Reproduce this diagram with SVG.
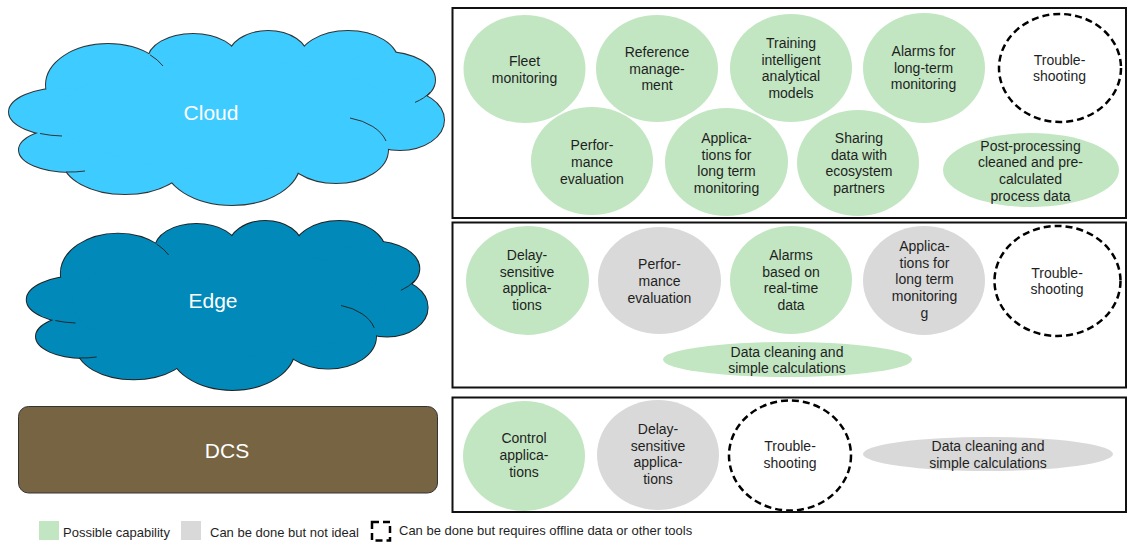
<svg xmlns="http://www.w3.org/2000/svg" xmlns:xlink="http://www.w3.org/1999/xlink" width="1128" height="542" viewBox="0 0 1128 542">
  <style>
    .t { font-family: "Liberation Sans", Arial, sans-serif; font-size: 14px; fill: #1f1f1f; text-anchor: middle; }
    .big { font-family: "Liberation Sans", Arial, sans-serif; font-size: 21px; fill: #ffffff; text-anchor: middle; }
    .leg { font-family: "Liberation Sans", Arial, sans-serif; font-size: 13px; fill: #1f1f1f; }
    .cap { fill: #c2e6c2; }
    .meh { fill: #d9d9d9; }
    .off { fill: #ffffff; stroke: #000000; stroke-width: 2.5; stroke-dasharray: 7 4; }
    .panel { fill: none; stroke: #111111; stroke-width: 2; }
  </style>
  <defs>
    <!-- cloud silhouette built from overlapping lobes -->
    <g id="cloudLobes">
      <ellipse cx="108" cy="85" rx="62" ry="41"/>
      <ellipse cx="193" cy="60" rx="45" ry="26"/>
      <ellipse cx="268" cy="58" rx="40" ry="27"/>
      <ellipse cx="348" cy="62" rx="50" ry="31"/>
      <ellipse cx="385" cy="80" rx="50" ry="28"/>
      <ellipse cx="400" cy="120" rx="44" ry="30"/>
      <ellipse cx="336" cy="150" rx="52" ry="33"/>
      <ellipse cx="232" cy="162" rx="68" ry="43"/>
      <ellipse cx="125" cy="160" rx="62" ry="34"/>
      <ellipse cx="70" cy="150" rx="51" ry="22"/>
      <ellipse cx="65" cy="112" rx="56" ry="24"/>
      <ellipse cx="228" cy="115" rx="170" ry="55"/>
    </g>
    <!-- short inner creases between lobes -->
    <g id="cloudCreases">
      <path d="M350,118 A52,33 0 0 1 386,141"/>
      <path d="M415,102.4 A50,28 0 0 0 430,92.2"/>
      <path d="M40,133.5 A56,24 0 0 0 62,136"/>
      <path d="M66,172 A51,22 0 0 0 85,171"/>
      <path d="M150,54.8 A62,41 0 0 1 163,66"/>
    </g>
  </defs>

  <rect width="1128" height="542" fill="#ffffff"/>

  <!-- tiers -->
  <g id="cloud">
    <use xlink:href="#cloudLobes" fill="#3ecbff" stroke="#333333" stroke-width="2"/>
    <use xlink:href="#cloudLobes" fill="#3ecbff"/>
    <use xlink:href="#cloudCreases" fill="none" stroke="#333333" stroke-width="1"/>
    <text class="big" x="211" y="120">Cloud</text>
  </g>

  <g id="edge">
    <g transform="matrix(0.9218 0 0 0.9714 18.4 190.86)">
      <use xlink:href="#cloudLobes" fill="#0089b9" stroke="#222222" stroke-width="2"/>
      <use xlink:href="#cloudLobes" fill="#0089b9"/>
      <use xlink:href="#cloudCreases" fill="none" stroke="#222222" stroke-width="1"/>
    </g>
    <text class="big" x="213" y="308">Edge</text>
  </g>

  <g id="dcs">
    <rect x="18.5" y="406.5" width="419" height="86.5" rx="10" fill="#766443" stroke="#333333" stroke-width="1"/>
    <text class="big" x="227" y="458">DCS</text>
  </g>

  <!-- cloud capabilities -->
  <g id="cloud-panel">
    <g id="c-fleet">
      <ellipse class="cap" cx="524.5" cy="69" rx="61" ry="54"/>
      <text class="t"><tspan x="524.5" y="66">Fleet</tspan><tspan x="524.5" y="82.7">monitoring</tspan></text>
    </g>
    <g id="c-reference">
      <ellipse class="cap" cx="657" cy="68.5" rx="61" ry="53.5"/>
      <text class="t"><tspan x="657" y="57">Reference</tspan><tspan x="657" y="73.7">manage-</tspan><tspan x="657" y="90.4">ment</tspan></text>
    </g>
    <g id="c-training">
      <ellipse class="cap" cx="791" cy="68" rx="61" ry="54"/>
      <text class="t"><tspan x="791" y="48">Training</tspan><tspan x="791" y="64.7">intelligent</tspan><tspan x="791" y="81.4">analytical</tspan><tspan x="791" y="98.1">models</tspan></text>
    </g>
    <g id="c-alarms">
      <ellipse class="cap" cx="924" cy="68" rx="61" ry="55"/>
      <text class="t"><tspan x="923.5" y="56">Alarms for</tspan><tspan x="923.5" y="72.7">long-term</tspan><tspan x="923.5" y="89.4">monitoring</tspan></text>
    </g>
    <g id="c-trouble">
      <ellipse class="off" cx="1060" cy="68" rx="61" ry="54"/>
      <text class="t"><tspan x="1059.5" y="64.7">Trouble-</tspan><tspan x="1059.5" y="81.4">shooting</tspan></text>
    </g>
    <g id="c-performance">
      <ellipse class="cap" cx="592" cy="161" rx="61" ry="54"/>
      <text class="t"><tspan x="592" y="150.3">Perfor-</tspan><tspan x="592" y="167">mance</tspan><tspan x="592" y="183.7">evaluation</tspan></text>
    </g>
    <g id="c-longterm">
      <ellipse class="cap" cx="726.5" cy="162" rx="61.5" ry="54"/>
      <text class="t"><tspan x="726.5" y="143">Applica-</tspan><tspan x="726.5" y="159.7">tions for</tspan><tspan x="726.5" y="176.4">long term</tspan><tspan x="726.5" y="193.1">monitoring</tspan></text>
    </g>
    <g id="c-sharing">
      <ellipse class="cap" cx="858" cy="163" rx="61" ry="53"/>
      <text class="t"><tspan x="859" y="143">Sharing</tspan><tspan x="859" y="159.7">data with</tspan><tspan x="859" y="176.4">ecosystem</tspan><tspan x="859" y="193.1">partners</tspan></text>
    </g>
    <g id="c-postproc">
      <ellipse class="cap" cx="1031" cy="170" rx="88" ry="37"/>
      <text class="t"><tspan x="1030.5" y="150.7">Post-processing</tspan><tspan x="1030.5" y="167.4">cleaned and pre-</tspan><tspan x="1030.5" y="184.1">calculated</tspan><tspan x="1030.5" y="200.8">process data</tspan></text>
    </g>
    <rect class="panel" x="452.5" y="8" width="673.5" height="210"/>
  </g>

  <!-- edge capabilities -->
  <g id="edge-panel">
    <g id="e-delay">
      <ellipse class="cap" cx="527.5" cy="280.5" rx="61.5" ry="54.5"/>
      <text class="t"><tspan x="527" y="260">Delay-</tspan><tspan x="527" y="276.7">sensitive</tspan><tspan x="527" y="293.4">applica-</tspan><tspan x="527" y="310.1">tions</tspan></text>
    </g>
    <g id="e-performance">
      <ellipse class="meh" cx="659.5" cy="280.5" rx="61.5" ry="53.5"/>
      <text class="t"><tspan x="659.5" y="269.3">Perfor-</tspan><tspan x="659.5" y="286">mance</tspan><tspan x="659.5" y="302.7">evaluation</tspan></text>
    </g>
    <g id="e-alarms">
      <ellipse class="cap" cx="791" cy="280" rx="61" ry="54"/>
      <text class="t"><tspan x="791" y="260">Alarms</tspan><tspan x="791" y="276.7">based on</tspan><tspan x="791" y="293.4">real-time</tspan><tspan x="791" y="310.1">data</tspan></text>
    </g>
    <g id="e-longterm">
      <ellipse class="meh" cx="924" cy="280.5" rx="61" ry="54.5"/>
      <text class="t"><tspan x="924.5" y="251">Applica-</tspan><tspan x="924.5" y="267.7">tions for</tspan><tspan x="924.5" y="284.4">long term</tspan><tspan x="924.5" y="301.1">monitoring</tspan><tspan x="924.5" y="317.8">g</tspan></text>
    </g>
    <g id="e-trouble">
      <ellipse class="off" cx="1057.5" cy="281" rx="63" ry="55"/>
      <text class="t"><tspan x="1057" y="277.7">Trouble-</tspan><tspan x="1057" y="294.4">shooting</tspan></text>
    </g>
    <g id="e-cleaning">
      <ellipse class="cap" cx="787.5" cy="359.5" rx="124.5" ry="17.5"/>
      <text class="t"><tspan x="787" y="356.7">Data cleaning and</tspan><tspan x="787" y="373.4">simple calculations</tspan></text>
    </g>
    <rect class="panel" x="452.5" y="222.5" width="673.5" height="165"/>
  </g>

  <!-- DCS capabilities -->
  <g id="dcs-panel">
    <g id="d-control">
      <ellipse class="cap" cx="524" cy="456" rx="61" ry="55"/>
      <text class="t"><tspan x="524" y="443">Control</tspan><tspan x="524" y="460">applica-</tspan><tspan x="524" y="477">tions</tspan></text>
    </g>
    <g id="d-delay">
      <ellipse class="meh" cx="658" cy="455" rx="61" ry="55"/>
      <text class="t"><tspan x="658" y="434">Delay-</tspan><tspan x="658" y="450.7">sensitive</tspan><tspan x="658" y="467.4">applica-</tspan><tspan x="658" y="484.1">tions</tspan></text>
    </g>
    <g id="d-trouble">
      <ellipse class="off" cx="790" cy="455.5" rx="61" ry="55"/>
      <text class="t"><tspan x="790" y="451">Trouble-</tspan><tspan x="790" y="467.7">shooting</tspan></text>
    </g>
    <g id="d-cleaning">
      <ellipse class="meh" cx="988" cy="454" rx="125" ry="17"/>
      <text class="t"><tspan x="988" y="451">Data cleaning and</tspan><tspan x="988" y="467.7">simple calculations</tspan></text>
    </g>
    <rect class="panel" x="452.5" y="397.5" width="673.5" height="114.5"/>
  </g>

  <g id="connectors"/>

  <!-- legend -->
  <g id="legend">
    <rect class="cap" x="39" y="521" width="20" height="19"/>
    <text class="leg" x="63" y="537">Possible capability</text>
    <rect class="meh" x="181" y="521" width="20" height="19"/>
    <text class="leg" x="210" y="537">Can be done but not ideal</text>
    <rect class="off" x="372" y="522" width="18" height="18.5" stroke-dasharray="6 3.5"/>
    <text class="leg" x="399" y="535">Can be done but requires offline data or other tools</text>
  </g>
</svg>
